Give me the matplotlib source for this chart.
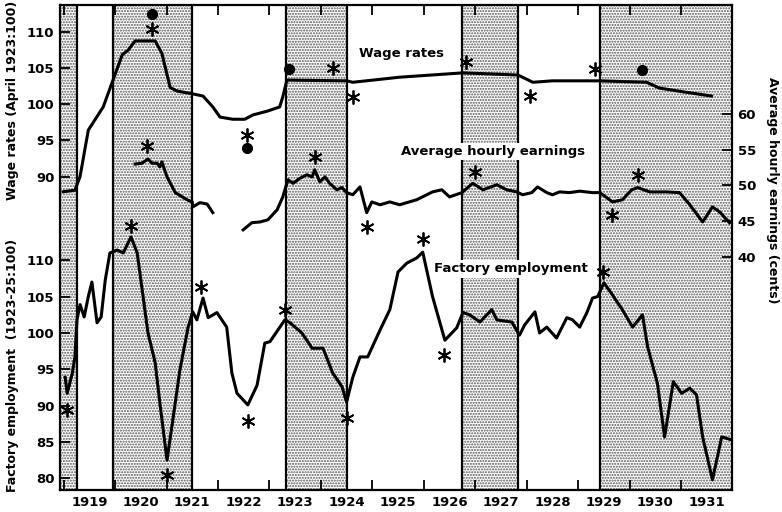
import numpy as np
import matplotlib
matplotlib.use("Agg")
import matplotlib.pyplot as plt

plt.rcParams['font.family'] = ['DejaVu Sans']
plt.rcParams['font.weight'] = 'bold'
plt.rcParams['hatch.linewidth'] = 1.0

# Wage rates (April 1923 = 100)
wage_yr = [1918.99, 1919.22, 1919.32, 1919.48, 1919.77, 1919.96, 1920.14, 1920.25, 1920.39,
           1920.78, 1920.91, 1921.07, 1921.20, 1921.51, 1921.71, 1921.90, 1922.04, 1922.29,
           1922.52, 1922.68, 1922.95, 1923.20, 1923.26, 1923.34, 1924.50, 1924.62, 1925.53,
           1926.76, 1927.83, 1928.12, 1928.50, 1929.42, 1930.33, 1930.58, 1931.03, 1931.59]
wage = [87.9, 88.1, 90.0, 96.4, 99.6, 103.3, 106.8, 107.4, 108.7,
        108.7, 107.0, 102.3, 101.8, 101.4, 101.1, 99.6, 98.2, 97.9,
        97.9, 98.5, 99.0, 99.6, 101.0, 103.3, 103.2, 103.0, 103.7,
        104.3, 104.0, 103.0, 103.2, 103.2, 103.0, 102.2, 101.7, 101.1]

# Average hourly earnings (cents), two pieces
earn1_yr = [1920.39, 1920.52, 1920.64, 1920.72, 1920.82, 1920.87, 1920.91, 1921.01,
            1921.17, 1921.40, 1921.50, 1921.51, 1921.65, 1921.79, 1921.90]
earn1 = [53.0, 53.1, 53.7, 53.1, 53.1, 52.6, 53.3, 51.2,
         49.0, 48.0, 47.7, 47.0, 47.6, 47.4, 46.2]
earn2_yr = [1922.49, 1922.66, 1922.82, 1922.97, 1923.15, 1923.26, 1923.36, 1923.46, 1923.59,
            1923.73, 1923.83, 1923.88, 1923.98, 1924.08, 1924.17, 1924.31, 1924.41, 1924.50,
            1924.62, 1924.76, 1924.89, 1924.99, 1925.15, 1925.34, 1925.53, 1925.86, 1926.17,
            1926.35, 1926.50, 1926.74, 1926.95, 1927.15, 1927.42, 1927.61, 1927.81, 1927.92,
            1928.10, 1928.21, 1928.39, 1928.50, 1928.64, 1928.83, 1929.03, 1929.28, 1929.42,
            1929.67, 1929.86, 1930.04, 1930.16, 1930.39, 1930.72, 1930.97, 1931.17, 1931.42,
            1931.61, 1931.75, 1931.94]
earn2 = [43.8, 44.8, 44.9, 45.2, 46.6, 48.4, 50.8, 50.3, 51.0,
         51.5, 51.2, 52.2, 50.5, 51.2, 50.3, 49.4, 49.7, 49.0,
         48.7, 49.8, 46.2, 47.7, 47.3, 47.7, 47.3, 48.0, 49.1,
         49.4, 48.4, 49.0, 50.3, 49.4, 50.1, 49.4, 49.1, 48.7,
         49.0, 49.8, 49.0, 48.7, 49.1, 49.0, 49.2, 49.0, 49.0,
         47.7, 48.0, 49.4, 49.7, 49.1, 49.1, 49.0, 47.3, 44.9,
         47.0, 46.3, 44.8]

# Factory employment (1923-25 = 100)
emp_yr = [1919.03, 1919.07, 1919.17, 1919.22, 1919.26, 1919.32, 1919.40, 1919.48, 1919.55,
          1919.65, 1919.73, 1919.81, 1919.90, 1920.04, 1920.16, 1920.31, 1920.43, 1920.52,
          1920.64, 1920.78, 1920.87, 1921.01, 1921.13, 1921.26, 1921.42, 1921.51, 1921.59,
          1921.71, 1921.81, 1921.98, 1922.17, 1922.27, 1922.37, 1922.58, 1922.76, 1922.91,
          1923.01, 1923.30, 1923.40, 1923.63, 1923.83, 1924.04, 1924.23, 1924.41, 1924.50,
          1924.62, 1924.76, 1924.91, 1925.15, 1925.34, 1925.50, 1925.67, 1925.86, 1925.98,
          1926.17, 1926.41, 1926.64, 1926.76, 1926.89, 1927.09, 1927.32, 1927.42, 1927.71,
          1927.86, 1927.96, 1928.16, 1928.25, 1928.39, 1928.58, 1928.78, 1928.89, 1929.03,
          1929.17, 1929.28, 1929.38, 1929.50, 1929.67, 1929.84, 1930.06, 1930.25, 1930.35,
          1930.54, 1930.68, 1930.85, 1931.01, 1931.17, 1931.30, 1931.42, 1931.61, 1931.79,
          1931.98]
emp = [93.9, 91.7, 94.5, 96.7, 101.8, 103.9, 102.2, 105.0, 107.0,
       101.4, 102.2, 107.3, 111.0, 111.4, 111.0, 113.2, 111.0, 106.3,
       100.0, 95.9, 90.4, 82.5, 88.4, 94.9, 100.8, 102.9, 101.8,
       104.8, 102.1, 102.8, 100.8, 94.5, 91.7, 90.1, 92.8, 98.6,
       98.8, 101.8, 101.4, 100.0, 97.9, 97.9, 94.5, 92.6, 90.5,
       93.9, 96.7, 96.7, 100.4, 103.2, 108.4, 109.6, 110.3, 111.1,
       105.0, 99.0, 100.7, 102.8, 102.5, 101.5, 103.2, 101.8, 101.5,
       99.7, 101.1, 102.9, 100.0, 100.8, 99.3, 102.1, 101.8, 100.8,
       102.8, 104.8, 105.0, 106.9, 105.2, 103.4, 100.8, 102.5, 98.1,
       93.1, 85.7, 93.3, 91.7, 92.4, 91.5, 85.7, 79.8, 85.7,
       85.3]

# turning-point markers
wage_star_yr = [1920.72, 1922.56, 1924.23, 1924.62, 1926.82, 1928.06, 1929.32]
wage_star = [110.3, 95.7, 105.0, 101.0, 105.8, 101.1, 104.8]
wage_dot_yr = [1920.72, 1922.56, 1923.38, 1930.25]
wage_dot = [112.4, 93.9, 104.8, 104.7]
earn_star_yr = [1920.62, 1923.88, 1924.89, 1926.99, 1929.65, 1930.16]
earn_star = [55.5, 54.0, 44.2, 51.9, 45.9, 51.5]
emp_star_yr = [1919.07, 1920.31, 1921.01, 1921.67, 1922.58, 1923.30, 1924.50, 1925.98, 1926.39, 1929.48]
emp_star = [89.4, 114.7, 80.5, 106.3, 87.9, 103.2, 88.3, 112.9, 97.0, 108.4]

# recession bands
bands = [(1918.93, 1919.26), (1919.96, 1921.49), (1923.32, 1924.50),
         (1926.74, 1927.83), (1929.43, 1931.99)]

years = list(range(1919, 1932))

fig = plt.figure(figsize=(7.82, 5.12), dpi=100)
rect = [60 / 782, 22 / 512, 672 / 782, 485 / 512]
ax = fig.add_axes(rect)
ax_w = fig.add_axes(rect)
ax_e = fig.add_axes(rect)
for a in (ax_w, ax_e):
    a.patch.set_visible(False)

x0, x1 = 1918.93, 1931.99
for a in (ax, ax_w, ax_e):
    a.set_xlim(x0, x1)
ax.set_ylim(78.4, 145.1)
ax_w.set_ylim(46.76, 113.66)
ax_e.set_ylim(7.41, 75.24)

for b0, b1 in bands:
    ax.axvspan(b0, b1, facecolor='white', edgecolor='#555555', hatch='......', linewidth=0, zorder=0)
    for b in (b0, b1):
        if x0 < b < x1:
            ax.axvline(b, color='black', lw=1.6, zorder=1)

star = (6, 2, 0)
ax.plot(emp_yr, emp, color='black', lw=2.2, solid_joinstyle='round')
ax.plot(emp_star_yr, emp_star, ls='none', marker=star, ms=10, mew=1.3, color='black')
ax_w.plot(wage_yr, wage, color='black', lw=2.2, solid_joinstyle='round')
ax_w.plot(wage_star_yr, wage_star, ls='none', marker=star, ms=10, mew=1.3, color='black')
ax_w.plot(wage_dot_yr, wage_dot, ls='none', marker='o', ms=7, color='black')
ax_e.plot(earn1_yr, earn1, color='black', lw=2.2, solid_joinstyle='round')
ax_e.plot(earn2_yr, earn2, color='black', lw=2.2, solid_joinstyle='round')
ax_e.plot(earn_star_yr, earn_star, ls='none', marker=star, ms=10, mew=1.3, color='black')

# x axis: year ticks, labels in mid-year
ax.set_xticks(years)
ax.set_xticklabels([])
ax.set_xticks([y + 0.5 for y in years], minor=True)
ax.set_xticklabels([str(y) for y in years], minor=True, fontsize=9.5, fontweight='bold')
ax.tick_params(axis='x', which='major', direction='in', length=7, width=1.3, top=True)
ax.tick_params(axis='x', which='minor', length=0, pad=4)

ax.set_yticks([80, 85, 90, 95, 100, 105, 110])
ax.tick_params(axis='y', direction='in', length=7, width=1.3, labelsize=9.5, pad=4)
ax_w.set_yticks([90, 95, 100, 105, 110])
ax_w.tick_params(axis='y', direction='in', length=7, width=1.3, labelsize=9.5, pad=4)
ax_e.yaxis.tick_right()
ax_e.set_yticks([40, 45, 50, 55, 60])
ax_e.tick_params(axis='y', direction='in', length=7, width=1.3, labelsize=9.5, pad=4)
for a in (ax_w, ax_e):
    a.set_xticks([])
    for s in a.spines.values():
        s.set_visible(False)
for s in ax.spines.values():
    s.set_linewidth(1.6)
for lab in ax.get_yticklabels() + ax_w.get_yticklabels() + ax_e.get_yticklabels():
    lab.set_fontweight('bold')

box = dict(facecolor='white', edgecolor='none', pad=1.5)
ax_w.text(1925.57, 107.0, 'Wage rates', ha='center', va='center', fontsize=9.5, fontweight='bold', bbox=box)
ax_e.text(1927.35, 54.7, 'Average hourly earnings', ha='center', va='center', fontsize=9.5, fontweight='bold', bbox=box)
ax.text(1927.69, 108.8, 'Factory employment', ha='center', va='center', fontsize=9.5, fontweight='bold', bbox=box)

fig.text(13 / 782, 1 - 100 / 512, 'Wage rates (April 1923:100)', rotation=90,
         ha='center', va='center', fontsize=9, fontweight='bold')
fig.text(13 / 782, 1 - 365 / 512, 'Factory employment  (1923-25:100)', rotation=90,
         ha='center', va='center', fontsize=9, fontweight='bold')
fig.text(773 / 782, 1 - 190 / 512, 'Average hourly earnings (cents)', rotation=270,
         ha='center', va='center', fontsize=9, fontweight='bold')

fig.savefig('out.png', dpi=100)
